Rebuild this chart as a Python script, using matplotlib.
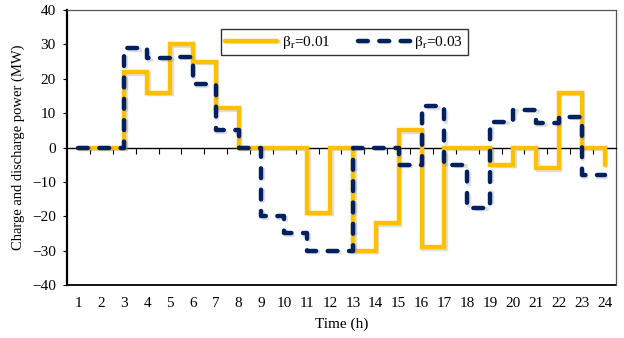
import matplotlib
matplotlib.use("Agg")
import matplotlib.pyplot as plt
import matplotlib.patheffects as pe

# hourly charge(+)/discharge(-) power, MW
hours = list(range(1, 25))
p_001 = [0, 0, 22, 16, 30, 25, 11.5, 0, 0, 0, -19, 0,
         -30, -22, 5, -29, 0, 0, -5, 0, -6, 16, 0, -5]
p_003 = [0, 0, 29, 26, 26.5, 18.5, 5, 0, -20, -25, -30, -30,
         0, 0, -5, 12, -5, -17.5, 7.5, 11, 7, 9, -8, -8]
y_ticks = [-40, -30, -20, -10, 0, 10, 20, 30, 40]

plt.rcParams["font.family"] = ["Liberation Serif", "DejaVu Serif"]
plt.rcParams["mathtext.fontset"] = "stix"

YELLOW = "#FFC000"
NAVY = "#002060"

fig = plt.figure(figsize=(6.24, 3.38), dpi=100)
ax = fig.add_axes([0.1074, 0.157, 0.8797, 0.813])

shadow = [pe.SimpleLineShadow(offset=(1.2, -1.2), alpha=0.25, shadow_color="gray"), pe.Normal()]

ax.plot(hours, p_001, drawstyle="steps-post", color=YELLOW, lw=3.2,
        solid_capstyle="round", solid_joinstyle="miter", label="β$_\\mathrm{r}$=0.01",
        path_effects=shadow, zorder=3)
ax.plot(hours, p_003, drawstyle="steps-post", color=NAVY, lw=3.2,
        dashes=(2.2, 2.6), dash_capstyle="round", label="β$_\\mathrm{r}$=0.03",
        path_effects=shadow, zorder=4)

ax.set_xlim(0.5, 24.5)
ax.set_ylim(-40, 40)
ax.set_yticks(y_ticks)
ax.tick_params(axis="y", direction="out", length=3, width=0.8, labelsize=11, pad=5)

# category axis crosses at zero, ticks between categories
ax.spines["bottom"].set_position(("data", 0))
ax.spines["bottom"].set_linewidth(1.0)
ax.set_xticks([h + 0.5 for h in hours[:-1]])
ax.tick_params(axis="x", direction="out", length=4, width=0.8, labelbottom=False)

sec = ax.secondary_xaxis(0)
sec.set_xticks(hours)
sec.tick_params(length=0, labelsize=11, pad=9)
sec.spines["bottom"].set_linewidth(1.3)
sec.set_xlabel("Time (h)", fontsize=11, labelpad=5)

ax.spines["left"].set_linewidth(1.6)
for s in ("top", "right"):
    ax.spines[s].set_color("#555555")
    ax.spines[s].set_linewidth(0.9)

ax.set_ylabel("Charge and discharge power (MW)", fontsize=10.5, labelpad=5)

leg = ax.legend(loc="upper center", bbox_to_anchor=(0.505, 0.958), ncol=2,
                frameon=True, fancybox=False, fontsize=11, handlelength=3.4,
                columnspacing=1.8, handletextpad=0.3, borderpad=0.3)
leg.get_frame().set_edgecolor("black")
leg.get_frame().set_linewidth(1.0)

fig.savefig("out.png", dpi=100)
